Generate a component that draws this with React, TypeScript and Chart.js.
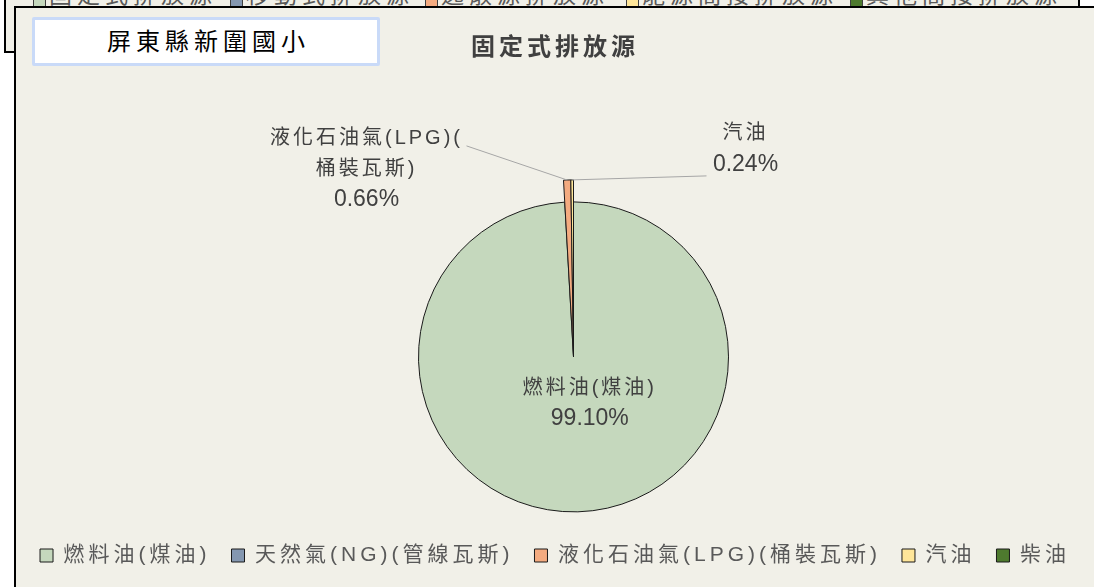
import { useEffect, useRef } from "react";
import { Chart, registerables } from "chart.js";

Chart.register(...registerables);

// ---------- data ----------
const categories = ["燃料油(煤油)", "天然氣(NG)(管線瓦斯)", "液化石油氣(LPG)(桶裝瓦斯)", "汽油", "柴油"];
const shares = [99.1, 0, 0.66, 0.24, 0];
const labelLines = [["燃料油(煤油)"], [], ["液化石油氣(LPG)(", "桶裝瓦斯)"], ["汽油"], []];
const backLegendNames = ["固定式排放源", "移動式排放源", "逸散源排放源", "能源間接排放源", "其他間接排放源"];
const schoolName = "屏東縣新圍國小";
const chartTitle = "固定式排放源";

// ---------- styles ----------
const sliceColors = ["#C5D8BD", "#8497B0", "#F4AB80", "#FFE699", "#4E7A2E"];
const backLegendColors = ["#C5D8BD", "#8497B0", "#F4AB80", "#FFE699", "#4E7A2E"];
const backLegendX = [33, 230, 425, 626, 850];
const BG = "#F1F0E8";
const FONT = '"Liberation Sans", "Noto Sans CJK TC", sans-serif';
const PIE_RADIUS = 155;
const EXTEND = 22;
const extendedSlices = [2, 3];

// label placement relative to pie centre
const labelPlace: Record<number, { inside?: boolean; dx: number; dy: number; lx?: number; ly?: number }> = {
  0: { inside: true, dx: 15, dy: 0 },
  2: { dx: -207, dy: -218, lx: -107, ly: -211 },
  3: { dx: 172, dy: -223, lx: 133, ly: -181 },
};

const spacingPlugin = {
  id: "spacing",
  beforeUpdate(chart: any) {
    chart.ctx.letterSpacing = "4px";
  },
  beforeDraw(chart: any) {
    chart.ctx.letterSpacing = "4px";
  },
};

const shiftPlugin = {
  id: "shiftArea",
  afterLayout(chart: any) {
    const a = chart.chartArea;
    a.left += 37;
    a.width = a.right - a.left;
  },
};

const extendPlugin = {
  id: "extendSlices",
  beforeDatasetsDraw(chart: any) {
    const meta = chart.getDatasetMeta(0);
    const base = meta.controller.outerRadius;
    meta.data.forEach((el: any, i: number) => {
      if (extendedSlices.includes(i)) el.outerRadius = base + EXTEND;
    });
  },
};

const labelPlugin = {
  id: "sliceLabels",
  afterDatasetsDraw(chart: any) {
    const ctx = chart.ctx;
    const meta = chart.getDatasetMeta(0);
    const total = shares.reduce((a, b) => a + b, 0);
    meta.data.forEach((el: any, i: number) => {
      const place = labelPlace[i];
      if (!place || !shares[i]) return;
      const { x: cx, y: cy, startAngle, endAngle, outerRadius } = el.getProps(
        ["x", "y", "startAngle", "endAngle", "outerRadius"],
        true
      );
      const mid = (startAngle + endAngle) / 2;
      const pct = ((shares[i] / total) * 100).toFixed(2) + "%";
      const lines = [...labelLines[i], pct];
      let bx: number, by: number;
      if (place.inside) {
        bx = cx + Math.cos(mid) * outerRadius * 0.3 + place.dx;
        by = cy + Math.sin(mid) * outerRadius * 0.3 - ((lines.length - 1) * 30) / 2;
      } else {
        bx = cx + place.dx;
        by = cy + place.dy;
        const tx = cx + Math.cos(mid) * outerRadius;
        const ty = cy + Math.sin(mid) * outerRadius;
        ctx.save();
        ctx.strokeStyle = "#A6A6A6";
        ctx.lineWidth = 1;
        ctx.beginPath();
        ctx.moveTo(cx + (place.lx || 0), cy + (place.ly || 0));
        ctx.lineTo(tx, ty);
        ctx.stroke();
        ctx.restore();
      }
      ctx.save();
      ctx.fillStyle = "#404040";
      ctx.textAlign = "center";
      ctx.textBaseline = "middle";
      lines.forEach((t, k) => {
        const isPct = k === lines.length - 1;
        ctx.font = isPct ? `23px ${FONT}` : `20px ${FONT}`;
        ctx.letterSpacing = isPct ? "0px" : "3px";
        ctx.fillText(t, bx, by + k * 30.5);
      });
      ctx.restore();
    });
  },
};

export default function App() {
  const ref = useRef<HTMLCanvasElement | null>(null);

  useEffect(() => {
    if (!ref.current) return;
    const chart = new Chart(ref.current, {
      type: "pie",
      data: {
        labels: categories,
        datasets: [
          {
            data: shares,
            backgroundColor: sliceColors,
            borderColor: "#1A1A1A",
            borderWidth: 1,
            radius: PIE_RADIUS,
            clip: false,
          } as any,
        ],
      },
      options: {
        responsive: false,
        animation: false,
        layout: { padding: { bottom: 11 } },
        plugins: {
          tooltip: { enabled: false },
          title: {
            display: true,
            text: chartTitle,
            color: "#404040",
            font: { family: FONT, size: 24, weight: "bold" },
            padding: { top: 26, bottom: 127 },
          },
          legend: {
            position: "bottom",
            labels: {
              boxWidth: 13,
              boxHeight: 13,
              padding: 21,
              color: "#595959",
              font: { family: FONT, size: 21 },
            },
          },
        },
      },
      plugins: [spacingPlugin, shiftPlugin, extendPlugin, labelPlugin],
    });
    return () => chart.destroy();
  }, []);

  return (
    <div
      style={{
        position: "fixed",
        left: 0,
        top: 0,
        width: 1094,
        height: 587,
        overflow: "hidden",
        background: "#fff",
      }}
    >
      <div
        style={{
          position: "absolute",
          left: 4,
          top: -100,
          width: 1072,
          height: 149,
          border: "2px solid #000",
          background: BG,
        }}
      >
        {backLegendNames.map((n, i) => (
          <div key={n}>
            <div
              style={{
                position: "absolute",
                left: backLegendX[i] - 6,
                top: 92,
                width: 11,
                height: 11,
                border: "1px solid #404040",
                background: backLegendColors[i],
              }}
            />
            <div
              style={{
                position: "absolute",
                left: backLegendX[i] + 10,
                top: 82,
                fontFamily: FONT,
                fontSize: 23,
                lineHeight: "23px",
                letterSpacing: 5,
                color: "#595959",
                whiteSpace: "nowrap",
              }}
            >
              {n}
            </div>
          </div>
        ))}
      </div>
      <div
        style={{
          position: "absolute",
          left: 14,
          top: 6,
          width: 1100,
          height: 600,
          border: "2px solid #000",
          background: BG,
        }}
      >
        <canvas
          ref={ref}
          width={1078}
          height={579}
          style={{ position: "absolute", left: 0, top: 0, width: 1078, height: 579 }}
        />
        <div
          style={{
            position: "absolute",
            left: 16,
            top: 9,
            width: 342,
            height: 43,
            border: "3px solid #C9DAF8",
            borderRadius: 2,
            background: "#fff",
            fontFamily: FONT,
            fontSize: 24,
            lineHeight: "43px",
            letterSpacing: 5,
            textAlign: "center",
            color: "#000",
          }}
        >
          <span style={{ paddingLeft: 5 }}>{schoolName}</span>
        </div>
      </div>
    </div>
  );
}
